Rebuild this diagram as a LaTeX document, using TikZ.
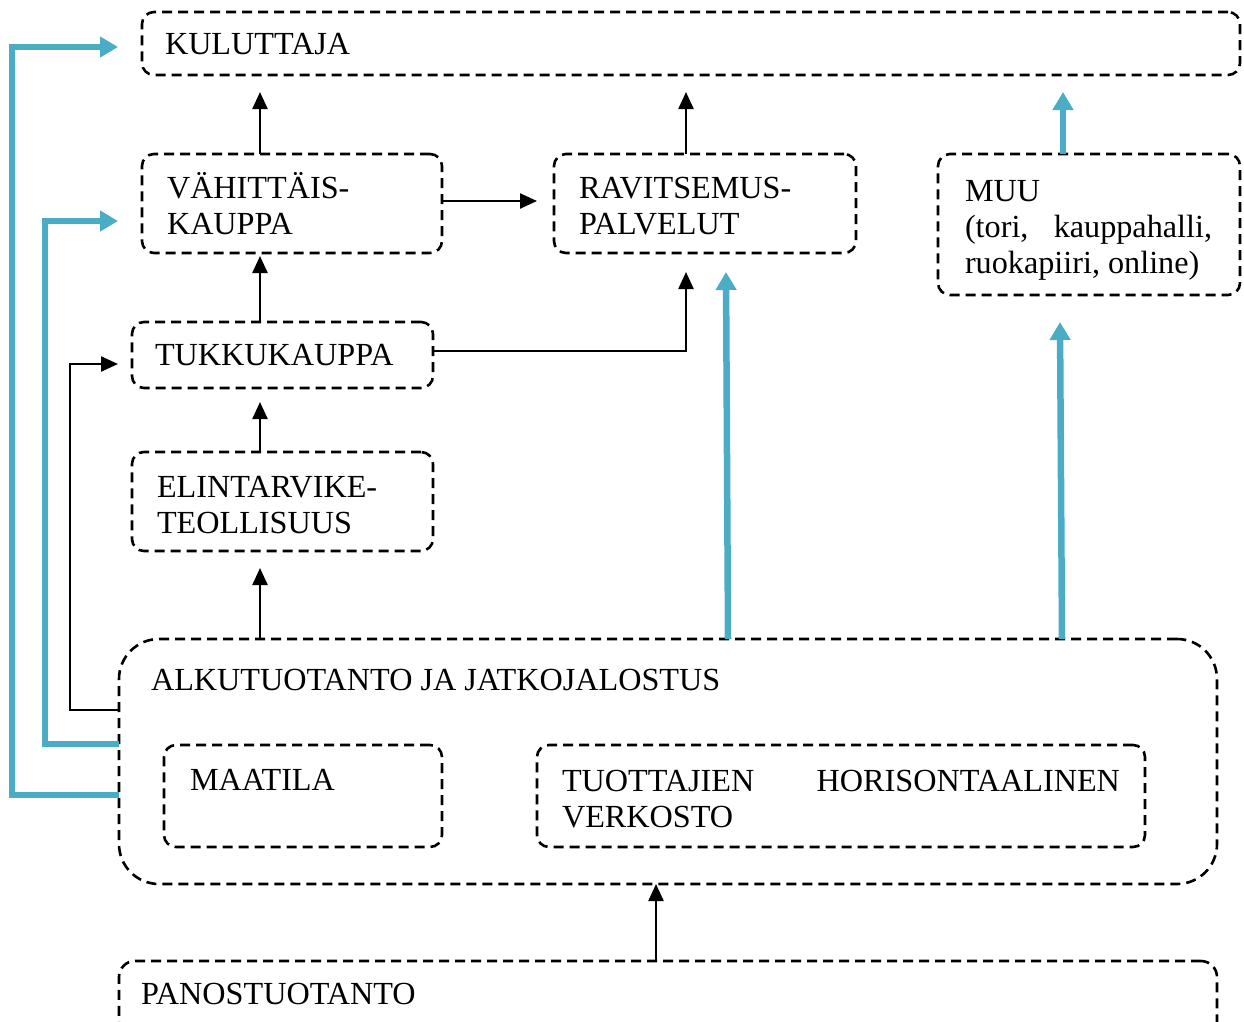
\documentclass[tikz,border=0pt]{standalone}
\usepackage{fontspec}
\setmainfont{Liberation Serif}
\usetikzlibrary{arrows.meta}
\definecolor{flowblue}{RGB}{75,172,198}
\tikzset{
  box/.style={draw=black, line width=2.6pt, dash pattern=on 10pt off 6pt, rounded corners=12pt,
              anchor=north west, inner sep=0pt, outer sep=0pt},
  txt/.style={anchor=base west, inner sep=0pt, outer sep=0pt, align=left,
              font={\fontsize{32.2}{36}\selectfont}},
  blk/.style={draw=black, line width=2.4pt, -{Triangle[length=17pt,width=15pt]}},
  blu/.style={draw=flowblue, line width=6.5pt, line join=miter, -{Triangle[length=18pt,width=20pt]}}
}
\begin{document}
\begin{tikzpicture}[x=1pt,y=-1pt]
\useasboundingbox (0,0) rectangle (1244,1021);
\clip (0,0) rectangle (1244,1021);
% boxes
\node[box, minimum width=1098pt, minimum height=63pt] (kul) at (142,12) {};
\node[box, minimum width=300pt, minimum height=99pt] (vah) at (142,154) {};
\node[box, minimum width=302pt, minimum height=99pt] (rav) at (554,154) {};
\node[box, minimum width=302pt, minimum height=141pt] (muu) at (938,154) {};
\node[box, minimum width=301pt, minimum height=66pt] (tuk) at (132,322) {};
\node[box, minimum width=301pt, minimum height=99pt] (eli) at (132,452) {};
\node[box, rounded corners=40pt, minimum width=1098pt, minimum height=245pt] (alku) at (119,639) {};
\node[box, minimum width=278pt, minimum height=102pt] (maa) at (164,745) {};
\node[box, minimum width=608pt, minimum height=102pt] (tuo) at (537,745) {};
\node[box, rounded corners=16pt, minimum width=1098pt, minimum height=120pt] (pano) at (119,961) {};
% texts (base anchor = baseline of the last line)
\node[txt] (tkul) at (165,54) {KULUTTAJA};
\node[txt] (tvah) at (167,234) {VÄHITTÄIS-\\KAUPPA};
\node[txt] (trav) at (579,234) {RAVITSEMUS-\\PALVELUT};
\node[txt] (tmuu) at (965,273) {MUU\\\makebox[247pt][l]{(tori,\hfill kauppahalli,}\\ruokapiiri, online)};
\node[txt] (ttuk) at (155,365) {TUKKUKAUPPA};
\node[txt] (teli) at (157,533) {ELINTARVIKE-\\TEOLLISUUS};
\node[txt] (talku) at (151,690) {ALKUTUOTANTO JA JATKOJALOSTUS};
\node[txt] (tmaa) at (190,790) {MAATILA};
\node[txt] (ttuo) at (562,827) {\makebox[558pt][l]{TUOTTAJIEN\hfill HORISONTAALINEN}\\VERKOSTO};
\node[txt] (tpano) at (141,1004) {PANOSTUOTANTO};
% black connectors
\draw[blk] ([xshift=-32pt]vah.north) -- ([xshift=-431pt,yshift=-17pt]kul.south);
\draw[blk] ([xshift=-19pt]rav.north) -- ([xshift=-5pt,yshift=-17pt]kul.south);
\draw[blk] ([yshift=2.5pt]vah.east) -- ([xshift=-17pt,yshift=2.5pt]rav.west);
\draw[blk] ([xshift=-22.5pt]tuk.north) -- ([xshift=-32pt,yshift=-3pt]vah.south);
\draw[blk] ([yshift=4pt]tuk.east) -| ([xshift=-19pt,yshift=-19pt]rav.south);
\draw[blk] ([xshift=-22.5pt]eli.north) -- ([xshift=-22.5pt,yshift=-14pt]tuk.south);
\draw[blk] ([xshift=-408pt]alku.north) -- ([xshift=-22.5pt,yshift=-17pt]eli.south);
\draw[blk] ([yshift=51.5pt]alku.west) -- ++(-49,0) |- ([xshift=-14pt,yshift=-9pt]tuk.west);
\draw[blk] ([xshift=-12pt]pano.north) -- ([xshift=-12pt]alku.south);
% blue connectors
\draw[blu] ([yshift=-33.5pt]alku.west) -- ++(-107,0) |- ([xshift=-24pt,yshift=-3.5pt]kul.west);
\draw[blu] ([yshift=17.5pt]alku.west) -- ++(-74,0) |- ([xshift=-24pt,yshift=-17.5pt]vah.west);
\draw[blu] ([xshift=60pt]alku.north) -- ([xshift=21pt,yshift=-19pt]rav.south);
\draw[blu] ([xshift=394pt]alku.north) -- ([xshift=-29pt,yshift=-27pt]muu.south);
\draw[blu] ([xshift=-26pt]muu.north) -- ([xshift=372pt,yshift=-17pt]kul.south);
\end{tikzpicture}
\end{document}
